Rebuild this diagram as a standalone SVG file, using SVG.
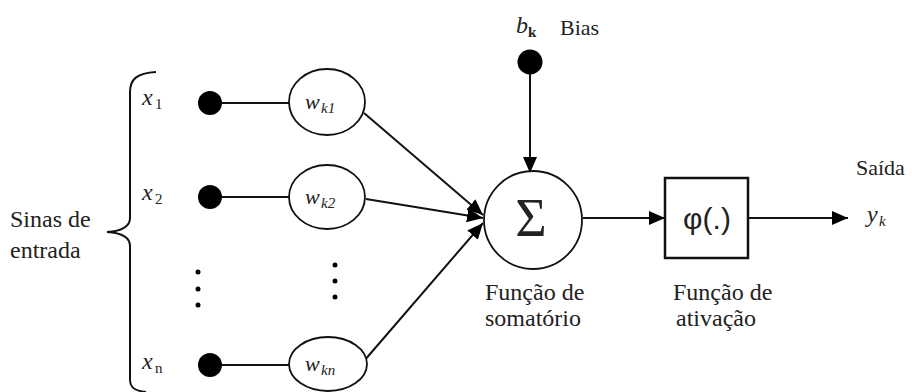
<svg xmlns="http://www.w3.org/2000/svg" width="912" height="392" viewBox="0 0 912 392">
<style>
.t{font-family:"Liberation Serif","DejaVu Serif","Times New Roman",serif;fill:#222}
.lbl{font-size:24px}
.it{font-style:italic}
.sub{font-size:15px}
.ln{stroke:#111;stroke-width:2;fill:none}
.node{stroke:#111;stroke-width:1.8;fill:#fff}
.dot{fill:#000}
</style>
<defs>
<marker id="ah" markerWidth="16" markerHeight="14" refX="16" refY="7" orient="auto" markerUnits="userSpaceOnUse">
<path d="M0,0 L16,7 L0,14 Z" fill="#000"/>
</marker>
</defs>
<rect width="912" height="392" fill="#fff"/>

<g id="brace">
<path class="ln" d="M156,72 C136,73 130,80 130,92 L130,218 C130,226 122,231 107,232 C122,233 130,238 130,246 L130,380 C130,387 134,391 146,392"/>
</g>
<g id="input-label" font-family="Liberation Serif, DejaVu Serif, serif">
<text class="t lbl" x="10" y="227">Sinas de</text>
<text class="t lbl" x="10" y="258">entrada</text>
</g>

<g id="connectors">
<line class="ln" x1="210" y1="103" x2="289" y2="103"/>
<line class="ln" x1="210" y1="197" x2="289" y2="197"/>
<line class="ln" x1="210" y1="365" x2="289" y2="365"/>
<line class="ln" x1="364" y1="113" x2="483" y2="215" marker-end="url(#ah)"/>
<line class="ln" x1="366" y1="199" x2="483" y2="218" marker-end="url(#ah)"/>
<line class="ln" x1="364" y1="361" x2="483" y2="223" marker-end="url(#ah)"/>
<line class="ln" x1="530" y1="70" x2="530" y2="173" marker-end="url(#ah)"/>
<line class="ln" x1="583" y1="218" x2="665" y2="218" marker-end="url(#ah)"/>
<line class="ln" x1="748" y1="218" x2="848" y2="218" marker-end="url(#ah)"/>
</g>

<g id="x1" font-family="Liberation Serif, DejaVu Serif, serif">
<text class="t lbl it" x="142" y="105">x</text><text class="t sub" x="155" y="109">1</text>
<circle class="dot" cx="210" cy="103" r="12"/>
</g>
<g id="x2" font-family="Liberation Serif, DejaVu Serif, serif">
<text class="t lbl it" x="142" y="200">x</text><text class="t sub" x="155" y="204">2</text>
<circle class="dot" cx="210" cy="197" r="12"/>
</g>
<g id="xn" font-family="Liberation Serif, DejaVu Serif, serif">
<text class="t lbl it" x="142" y="369">x</text><text class="t sub" x="155" y="373">n</text>
<circle class="dot" cx="210" cy="365" r="12"/>
</g>
<g id="dots-left">
<circle class="dot" cx="198" cy="272" r="2.5"/>
<circle class="dot" cx="198" cy="289" r="2.5"/>
<circle class="dot" cx="198" cy="305" r="2.5"/>
</g>
<g id="dots-right">
<circle class="dot" cx="335" cy="265" r="2.5"/>
<circle class="dot" cx="335" cy="281" r="2.5"/>
<circle class="dot" cx="335" cy="297" r="2.5"/>
</g>

<g id="wk1" font-family="Liberation Serif, DejaVu Serif, serif">
<ellipse class="node" cx="327" cy="102" rx="38" ry="33"/>
<text class="t it" font-size="22" x="305" y="109">w</text><text class="t it sub" x="321" y="113">k1</text>
</g>
<g id="wk2" font-family="Liberation Serif, DejaVu Serif, serif">
<ellipse class="node" cx="327" cy="197" rx="38" ry="32"/>
<text class="t it" font-size="22" x="305" y="204">w</text><text class="t it sub" x="321" y="208">k2</text>
</g>
<g id="wkn" font-family="Liberation Serif, DejaVu Serif, serif">
<ellipse class="node" cx="328" cy="364" rx="39" ry="27"/>
<text class="t it" font-size="22" x="305" y="371">w</text><text class="t it sub" x="321" y="375">kn</text>
</g>

<g id="bias" font-family="Liberation Serif, DejaVu Serif, serif">
<circle class="dot" cx="530" cy="62" r="12.5"/>
<text class="t lbl it" x="516" y="33">b</text><text class="t sub" font-weight="bold" x="528" y="37">k</text>
<text class="t" font-size="22" x="560" y="35">Bias</text>
</g>

<g id="sum" font-family="Liberation Serif, DejaVu Serif, serif">
<circle class="node" cx="533" cy="220" r="49"/>
<text class="t" font-size="54" x="531" y="236" text-anchor="middle">Σ</text>
<text class="t lbl" x="485" y="300">Função de</text>
<text class="t lbl" x="485" y="326">somatório</text>
</g>

<g id="activation" font-family="Liberation Serif, DejaVu Serif, serif">
<rect x="665" y="178" width="83" height="80" fill="#fff" stroke="#111" stroke-width="2.5"/>
<text font-family="Liberation Sans, Arial, sans-serif" fill="#222" font-size="30" x="707" y="229" text-anchor="middle">φ(.)</text>
<text class="t lbl" x="673" y="300">Função de</text>
<text class="t lbl" x="676" y="326">ativação</text>
</g>

<g id="output" font-family="Liberation Serif, DejaVu Serif, serif">
<text class="t" font-size="22" x="856" y="175">Saída</text>
<text class="t lbl it" x="867" y="222">y</text><text class="t it sub" x="879" y="226">k</text>
</g>
</svg>
